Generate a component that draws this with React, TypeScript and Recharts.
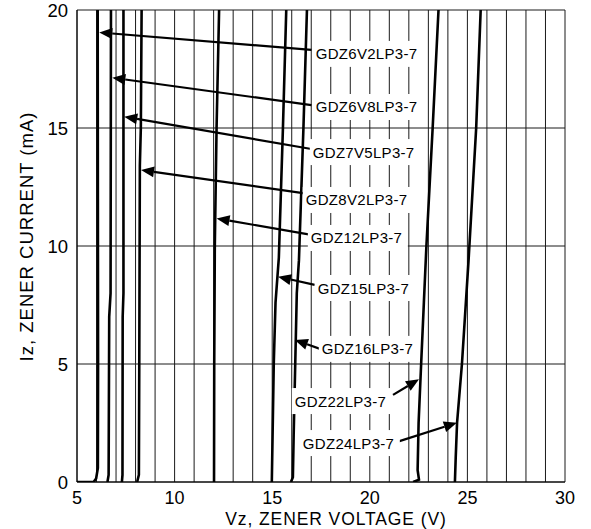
import React from 'react';
import { LineChart, Line, XAxis, YAxis, CartesianGrid, ReferenceLine, ReferenceDot } from 'recharts';

// zener curves, [Vz (V), Iz (mA)]
const gdz6v2 = [[5, 0], [5.85, 0], [5.98, 0.15], [6.07, 0.6], [6.08, 5], [6.07, 12], [6.06, 20]];
const gdz6v8 = [[6.56, 0], [6.62, 0.3], [6.65, 7], [6.72, 8], [6.74, 20]];
const gdz7v5 = [[7.3, 0], [7.33, 0.3], [7.34, 7], [7.38, 8], [7.38, 20]];
const gdz8v2 = [[8.08, 0], [8.17, 0.3], [8.19, 5], [8.22, 13.4], [8.27, 15], [8.31, 20]];
const gdz12 = [[12.02, 0], [12.03, 5], [12.06, 10], [12.15, 15], [12.28, 20]];
const gdz15 = [[14.98, 0], [15.02, 2], [15.08, 5], [15.17, 7.6], [15.34, 9.5], [15.55, 15], [15.72, 20]];
const gdz16 = [[15.96, 0], [16.06, 0.2], [16.1, 2], [16.18, 5], [16.26, 8], [16.37, 9.4], [16.6, 15], [16.78, 20]];
const gdz22 = [[22.22, 0], [22.52, 0.1], [22.45, 0.5], [22.5, 2.5], [22.63, 5], [22.77, 7.6], [22.9, 10], [23.22, 15], [23.52, 20]];
const gdz24 = [[24.36, 0], [24.4, 1], [24.47, 2.5], [24.72, 5], [25.06, 9.4], [25.45, 15], [25.68, 20]];

const curves = [gdz6v2, gdz6v8, gdz7v5, gdz8v2, gdz12, gdz15, gdz16, gdz22, gdz24];

const partNames = [
  'GDZ6V2LP3-7', 'GDZ6V8LP3-7', 'GDZ7V5LP3-7', 'GDZ8V2LP3-7', 'GDZ12LP3-7',
  'GDZ15LP3-7', 'GDZ16LP3-7', 'GDZ22LP3-7', 'GDZ24LP3-7',
];
// label anchor (left edge of text, middle), in data units
const labelAt = [
  [17.23, 18.14], [17.23, 15.89], [17.08, 13.98], [16.72, 11.95], [16.98, 10.34],
  [17.33, 8.22], [17.54, 5.64], [16.16, 3.43], [16.57, 1.65],
];
// arrow tail -> tip, in data units
const arrowFrom = [
  [17.01, 18.31], [17.01, 15.97], [17.01, 14.11], [16.67, 12.23], [17.01, 10.47],
  [17.18, 8.35], [17.52, 5.62], [21.19, 3.69], [21.44, 1.71],
];
const arrowTo = [
  [6.14, 19.05], [6.81, 17.13], [7.42, 15.48], [8.28, 13.22], [12.15, 11.17],
  [15.3, 8.7], [16.16, 6.02], [22.52, 4.35], [24.46, 2.51],
];

const xTicks = [5, 6, 7, 8, 9, 10, 11, 12, 13, 14, 15, 16, 17, 18, 19, 20, 21, 22, 23, 24, 25, 26, 27, 28, 29, 30];
const yTicks = [0, 5, 10, 15, 20];

const font = '"Liberation Sans", Arial, sans-serif';

const XTick = (props: any) => {
  const { x, y, payload } = props;
  if (payload.value % 5 !== 0) return null;
  return (
    <text x={x} y={y + 22} textAnchor="middle" fontSize={18} fontFamily={font} fill="#000">
      {payload.value}
    </text>
  );
};

const YTick = (props: any) => {
  const { x, y, payload } = props;
  return (
    <text x={x - 9} y={y + 6.5} textAnchor="end" fontSize={18.5} fontFamily={font} fill="#000">
      {payload.value}
    </text>
  );
};

const Arrow = (props: any) => {
  const x1 = props.x1 ?? props.points?.[0]?.x;
  const y1 = props.y1 ?? props.points?.[0]?.y;
  const x2 = props.x2 ?? props.points?.[1]?.x;
  const y2 = props.y2 ?? props.points?.[1]?.y;
  if (x1 == null || x2 == null) return null;
  const dx = x2 - x1;
  const dy = y2 - y1;
  const len = Math.sqrt(dx * dx + dy * dy);
  const ux = dx / len;
  const uy = dy / len;
  const hl = 13;
  const hw = 5.5;
  const bx = x2 - ux * hl;
  const by = y2 - uy * hl;
  return (
    <g>
      <line x1={x1} y1={y1} x2={bx} y2={by} stroke="#000" strokeWidth={2.2} />
      <polygon
        points={`${x2},${y2} ${bx - uy * hw},${by + ux * hw} ${bx + uy * hw},${by - ux * hw}`}
        fill="#000"
      />
    </g>
  );
};

const makeLabel = (text: string) => (props: any) => {
  const { cx, cy } = props;
  const w = text.length * 9.4 + 6;
  return (
    <g>
      <rect x={cx - 3} y={cy - 13} width={w} height={26} fill="#fff" />
      <text x={cx} y={cy + 5.5} fontSize={15} fontFamily={font} letterSpacing={0.3} fill="#000">
        {text}
      </text>
    </g>
  );
};

export default function App() {
  return (
    <div style={{ position: 'absolute', left: 0, top: 0, width: 591, height: 529, background: '#fff' }}>
      <LineChart width={591} height={529} margin={{ top: 10, right: 26, left: 0, bottom: 0 }}>
        <CartesianGrid stroke="#1a1a1a" strokeWidth={1} />
        <XAxis
          type="number"
          dataKey="v"
          domain={[5, 30]}
          ticks={xTicks}
          interval={0}
          height={47}
          tickSize={0}
          tickMargin={0}
          tickLine={false}
          axisLine={{ stroke: '#000' }}
          tick={<XTick />}
          allowDataOverflow
        />
        <YAxis
          type="number"
          domain={[0, 20]}
          ticks={yTicks}
          interval={0}
          width={77}
          tickSize={0}
          tickMargin={0}
          tickLine={false}
          axisLine={{ stroke: '#000' }}
          tick={<YTick />}
          allowDataOverflow
        />
        {partNames.map((name, k) => (
          <ReferenceDot
            key={'lab' + name}
            x={labelAt[k][0]}
            y={labelAt[k][1]}
            r={1}
            shape={makeLabel(name)}
          />
        ))}
        {curves.map((c, k) => (
          <Line
            key={partNames[k]}
            data={c.map(([v, i]) => ({ v, i }))}
            dataKey="i"
            type="linear"
            stroke="#000"
            strokeWidth={2.6}
            dot={false}
            activeDot={false}
            isAnimationActive={false}
          />
        ))}
        {partNames.map((name, k) => (
          <ReferenceLine
            key={'arr' + name}
            segment={[
              { x: arrowFrom[k][0], y: arrowFrom[k][1] },
              { x: arrowTo[k][0], y: arrowTo[k][1] },
            ]}
            shape={<Arrow />}
          />
        ))}
      </LineChart>
      <svg width={591} height={529} style={{ position: 'absolute', left: 0, top: 0, pointerEvents: 'none' }}>
        <text
          x={336}
          y={525}
          textAnchor="middle"
          fontSize={17.5}
          fontFamily={font}
          letterSpacing={0.9}
          fill="#000"
        >
          Vz, ZENER VOLTAGE (V)
        </text>
        <text
          transform="translate(32.5, 236.5) rotate(-90)"
          textAnchor="middle"
          fontSize={18.5}
          fontFamily={font}
          letterSpacing={1}
          fill="#000"
        >
          Iz, ZENER CURRENT (mA)
        </text>
      </svg>
    </div>
  );
}
